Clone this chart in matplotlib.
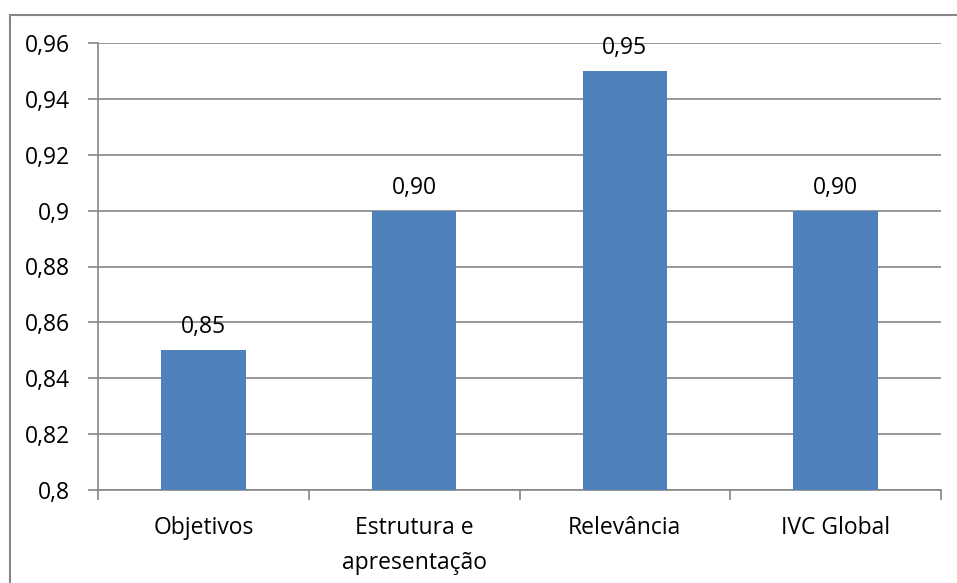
import numpy as np
import matplotlib.pyplot as plt
from matplotlib.patches import Rectangle

# Índice de validade de conteúdo por critério
categorias = ['Objetivos', 'Estrutura e\napresentação', 'Relevância', 'IVC Global']
valores = [0.85, 0.90, 0.95, 0.90]
rotulos = ['0,85', '0,90', '0,95', '0,90']
ticks_y = [0.80, 0.82, 0.84, 0.86, 0.88, 0.90, 0.92, 0.94, 0.96]
ticks_y_txt = ['0,8', '0,82', '0,84', '0,86', '0,88', '0,9', '0,92', '0,94', '0,96']

plt.rcParams['font.family'] = ['Open Sans', 'DejaVu Sans']
cinza = '#868686'
fs = 16.5

fig = plt.figure(figsize=(9.57, 5.83), dpi=100)
ax = fig.add_axes([98 / 957, 1 - 490 / 583, (941 - 98) / 957, (490 - 43) / 583])

# moldura do gráfico
fig.patches.append(Rectangle((9.5 / 957, -0.01), 1.0, 1 - 14.5 / 583 + 0.01,
                             transform=fig.transFigure, fill=False,
                             edgecolor=cinza, linewidth=1.5))

x = np.arange(len(categorias))
ax.bar(x, valores, width=0.4, color='#4F81BD', zorder=3)
for xi, v, r in zip(x, valores, rotulos):
    ax.annotate(r, (xi, v), xytext=(0, 8), textcoords='offset points',
                ha='center', va='bottom', fontsize=fs)

ax.set_xlim(-0.5, len(categorias) - 0.5)
ax.set_ylim(0.80, 0.96)
ax.set_yticks(ticks_y)
ax.set_yticklabels(ticks_y_txt, fontsize=fs)
ax.yaxis.grid(True, color=cinza, linewidth=1.2, zorder=0)

# rótulos das categorias no centro, marcas nas divisões
ax.set_xticks(np.arange(-0.5, len(categorias), 1.0))
ax.set_xticklabels([])
ax.set_xticks(x, minor=True)
ax.set_xticklabels(categorias, minor=True, fontsize=fs, linespacing=1.6)
ax.tick_params(axis='x', which='minor', length=0, pad=19)
ax.tick_params(axis='x', which='major', length=7, color=cinza, width=1.2)
ax.tick_params(axis='y', length=7, color=cinza, width=1.2, pad=13)

for lado in ['top', 'right']:
    ax.spines[lado].set_visible(False)
for lado in ['left', 'bottom']:
    ax.spines[lado].set_color(cinza)
    ax.spines[lado].set_linewidth(1.2)

plt.savefig('out.png', dpi=100)
